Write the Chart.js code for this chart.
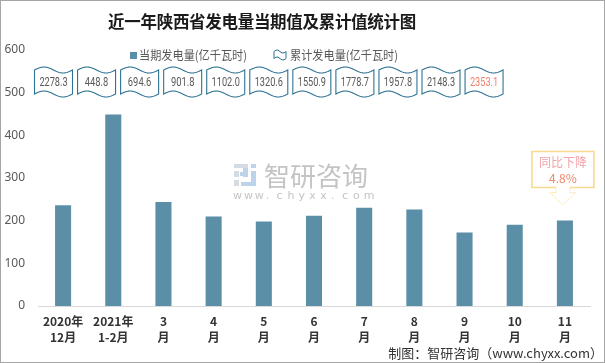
<!DOCTYPE html>
<html>
<head>
    <meta charset="utf-8">
    <title>近一年陕西省发电量当期值及累计值统计图</title>
    <script src="https://cdn.jsdelivr.net/npm/chart.js"></script>
    <style>
        body {
            margin: 0;
            padding: 0;
            background-color: #fff;
        }
        .wrap {
            position: relative;
            width: 605px;
            height: 363px;
            font-family: "Noto Sans CJK SC", sans-serif;
        }
        canvas {
            position: absolute;
            left: 0;
            top: 0;
        }
        .frame {
            position: absolute;
            left: 0;
            top: 0;
            width: 605px;
            height: 363px;
            box-sizing: border-box;
            border: 1px solid #a6a6a6;
            pointer-events: none;
        }
        .title {
            position: absolute;
            left: 0;
            top: 9px;
            width: 524px;
            text-align: center;
            font-size: 16.5px;
            font-weight: bold;
            color: #1a1a1a;
            letter-spacing: -0.3px;
        }
        .source {
            position: absolute;
            right: 2px;
            top: 343px;
            font-size: 13px;
            color: #333;
        }
    </style>
</head>
<body>

<div class="wrap">
    <canvas id="powerChart" width="605" height="363"></canvas>
    <div class="title">近一年陕西省发电量当期值及累计值统计图</div>
    <div class="source">制图：智研咨询（www.chyxx.com）</div>
    <div class="frame"></div>
</div>

<script>
    // 类别 (x轴标签, 两行)
    const xLabels = [
        ['2020年', '12月'], ['2021年', '1-2月'], ['3', '月'], ['4', '月'], ['5', '月'], ['6', '月'],
        ['7', '月'], ['8', '月'], ['9', '月'], ['10', '月'], ['11', '月']
    ];
    // 当期发电量(亿千瓦时)
    const monthlyOutput = [236.2, 448.8, 243.5, 209.6, 198.2, 211.5, 230.3, 226.1, 172.4, 190.5, 200.1];
    // 累计发电量(亿千瓦时)
    const cumulativeOutput = ['2278.3', '448.8', '694.6', '901.8', '1102.0', '1320.6', '1550.9', '1778.7', '1957.8', '2148.3', '2353.1'];
    // y轴刻度
    const yMin = 0;
    const yMax = 600;
    const yStep = 100;
    // 同比
    const yoyText = '同比下降';
    const yoyValue = '4.8%';

    const legendNames = ['当期发电量(亿千瓦时)', '累计发电量(亿千瓦时)'];

    const barColor = '#5b8fa8';
    const waveColor = '#2f7393';
    const textGray = '#595959';
    const cjk = '"Noto Sans CJK SC", sans-serif';

    // 波浪形 (旗帜) 路径
    function wavePath(ctx, l, t, w, h, a) {
        ctx.beginPath();
        for (let x = 0; x <= w; x++) {
            const y = t + a - a * Math.sin(2 * Math.PI * x / w);
            if (x === 0) ctx.moveTo(l + x, y); else ctx.lineTo(l + x, y);
        }
        for (let x = w; x >= 0; x--) {
            const y = t + h - a - a * Math.sin(2 * Math.PI * x / w);
            ctx.lineTo(l + x, y);
        }
        ctx.closePath();
    }

    // 水印
    const watermarkPlugin = {
        id: 'watermark',
        beforeDatasetsDraw(chart) {
            const ctx = chart.ctx;
            ctx.save();
            // logo
            ctx.fillStyle = '#d5dbe3';
            ctx.fillRect(234, 164, 14, 4);
            ctx.fillRect(234, 171, 5, 6);
            ctx.fillRect(234, 180, 5, 6);
            ctx.fillStyle = '#bcd3ea';
            ctx.fillRect(243, 168, 5, 9);
            ctx.fillRect(240, 172, 8, 4);
            ctx.fillRect(251, 164, 5, 4);
            ctx.fillRect(251, 171, 5, 15);
            ctx.fillRect(241, 182, 15, 4);
            ctx.font = '26px ' + cjk;
            ctx.fillStyle = '#c4c4c4';
            ctx.textBaseline = 'middle';
            ctx.fillText('智研咨询', 264, 176);
            ctx.font = '11px "DejaVu Sans", sans-serif';
            ctx.fillStyle = '#c4c4c4';
            const site = 'www.chyxx.com';
            for (let i = 0; i < site.length; i++) {
                ctx.fillText(site[i], 233 + i * 10.9, 196);
            }
            ctx.restore();
        }
    };

    // 图例, 累计值波浪框, 同比标注
    const overlayPlugin = {
        id: 'overlay',
        afterDraw(chart) {
            const ctx = chart.ctx;
            const y = chart.scales.y;
            const area = chart.chartArea;
            ctx.save();

            // 图例
            ctx.font = '12.5px ' + cjk;
            ctx.textBaseline = 'middle';
            ctx.fillStyle = barColor;
            ctx.fillRect(130, 52, 7, 7);
            ctx.fillStyle = textGray;
            ctx.fillText(legendNames[0], 139, 55, 108);
            ctx.strokeStyle = waveColor;
            ctx.lineWidth = 1;
            wavePath(ctx, 274, 50, 12, 10, 1.5);
            ctx.stroke();
            ctx.fillText(legendNames[1], 290, 55, 108);

            // 累计值
            const step = area.width * 0.078;
            const boxW = 38;
            const boxH = 30;
            const cy = y.getPixelForValue(525);
            cumulativeOutput.forEach((v, i) => {
                const cx = area.left + 15.5 + i * step;
                ctx.strokeStyle = waveColor;
                ctx.lineWidth = 1.1;
                wavePath(ctx, cx - boxW / 2, cy - boxH / 2, boxW, boxH, 3);
                ctx.fillStyle = '#fff';
                ctx.fill();
                ctx.stroke();
                ctx.font = '12.5px "Roboto", sans-serif';
                ctx.textAlign = 'center';
                ctx.fillStyle = i === cumulativeOutput.length - 1 ? '#f4806b' : textGray;
                ctx.fillText(v, cx, cy + 1, v.length * 4.7);
            });

            // 同比标注
            const meta = chart.getDatasetMeta(0);
            const last = meta.data[meta.data.length - 1];
            const tx = last.x - 2;
            const tipY = last.y - 16;
            const bx = tx - 31, bt = tipY - 53, bw = 62, bh = 36;
            ctx.strokeStyle = '#f9d98c';
            ctx.lineWidth = 1.5;
            ctx.beginPath();
            ctx.moveTo(tx - 7, bt + bh);
            ctx.lineTo(bx, bt + bh);
            ctx.lineTo(bx, bt);
            ctx.lineTo(bx + bw, bt);
            ctx.lineTo(bx + bw, bt + bh);
            ctx.lineTo(tx + 7, bt + bh);
            ctx.stroke();
            ctx.lineWidth = 1;
            ctx.setLineDash([1, 1]);
            ctx.beginPath();
            ctx.moveTo(tx - 7, bt + bh);
            ctx.lineTo(tx - 7, bt + bh + 5);
            ctx.lineTo(tx - 13, bt + bh + 5);
            ctx.lineTo(tx, tipY);
            ctx.lineTo(tx + 13, bt + bh + 5);
            ctx.lineTo(tx + 7, bt + bh + 5);
            ctx.lineTo(tx + 7, bt + bh);
            ctx.stroke();
            ctx.setLineDash([]);
            ctx.textAlign = 'center';
            ctx.font = '12px ' + cjk;
            ctx.fillStyle = '#f4a3a8';
            ctx.fillText(yoyText, tx, bt + 11);
            ctx.fillStyle = '#f0876a';
            ctx.fillText(yoyValue, tx, bt + 27);

            ctx.restore();
        }
    };

    const powerCtx = document.getElementById('powerChart').getContext('2d');
    const powerChart = new Chart(powerCtx, {
        type: 'bar',
        data: {
            labels: xLabels,
            datasets: [{
                label: legendNames[0],
                data: monthlyOutput,
                backgroundColor: barColor,
                barPercentage: 0.32,
                categoryPercentage: 1
            }]
        },
        options: {
            responsive: false,
            animation: false,
            devicePixelRatio: 1,
            layout: {
                padding: { top: 50, right: 15, left: 0, bottom: 0 }
            },
            plugins: {
                legend: { display: false },
                tooltip: { enabled: false }
            },
            scales: {
                x: {
                    grid: { display: false, drawTicks: false },
                    border: { color: '#d9d9d9', width: 1 },
                    ticks: {
                        color: '#333',
                        font: { size: 12, weight: 'bold', family: cjk, lineHeight: 1.32 },
                        padding: 8,
                        maxRotation: 0,
                        autoSkip: false
                    },
                    afterFit(scale) { scale.height = 57; }
                },
                y: {
                    min: yMin,
                    max: yMax,
                    grid: { display: false, drawTicks: false },
                    border: { display: false },
                    ticks: {
                        stepSize: yStep,
                        color: textGray,
                        font: { size: 12, family: '"Noto Sans", sans-serif' },
                        padding: 13
                    },
                    afterFit(scale) { scale.width = 38; }
                }
            }
        },
        plugins: [watermarkPlugin, overlayPlugin]
    });
</script>

</body>
</html>
